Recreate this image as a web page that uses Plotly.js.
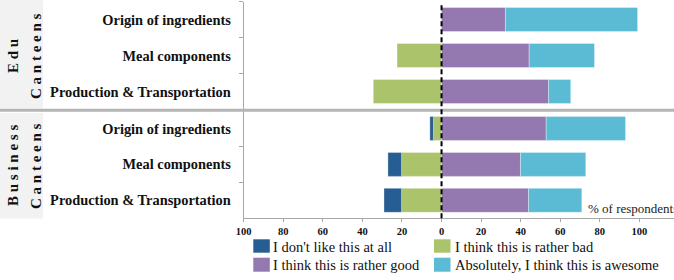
<!DOCTYPE html>
<html>
<head>
<meta charset="utf-8">
<script src="https://cdn.plot.ly/plotly-3.0.1.min.js"></script>
<style>html,body{margin:0;padding:0;background:#fff;}#chart{width:674px;height:280px;}</style>
</head>
<body>
<div id="chart"></div>
<script>
// ---- data ----
const categories = ["Origin of ingredients", "Meal components", "Production & Transportation"];
const seriesNames = ["I don't like this at all", "I think this is rather bad", "I think this is rather good", "Absolutely, I think this is awesome"];
const seriesColors = ["#265e93", "#abc46b", "#9479b0", "#5bbbd4"];
const panelNames = ["E d u", "B u s i n e s s"];
const panelSub = ["C a n t e e n s", "C a n t e e n s"];

// percentages of respondents (negative side shown for dislike / rather bad)
const eduDislike = [0, 0, 0];
const eduBad = [0, 22.5, 34.5];
const eduGood = [32.3, 44.3, 54.1];
const eduAwesome = [66.8, 33.0, 11.2];

const bizDislike = [1.8, 6.9, 8.9];
const bizBad = [4.1, 20.2, 20.2];
const bizGood = [52.9, 39.9, 44.0];
const bizAwesome = [40.1, 33.0, 26.9];

const tickVals = [-100, -80, -60, -40, -20, 0, 20, 40, 60, 80, 100];
const tickText = ["100", "80", "60", "40", "20", "0", "20", "40", "60", "80", "100"];
const axisNote = "% of respondents";

// ---- helpers ----
const W = 674, H = 280;
const px = x => x / W;
const py = y => 1 - y / H;
const serif = "Liberation Serif";

function mk(vals, idx, yax, neg) {
  return {
    type: "bar", orientation: "h",
    x: vals.map(v => neg ? -v : v), y: categories,
    yaxis: yax, xaxis: "x",
    name: seriesNames[idx],
    marker: {color: seriesColors[idx], line: {width: 0.6, color: "rgba(255,255,255,0.55)"}},
    showlegend: false, hoverinfo: "skip"
  };
}

const data = [
  mk(eduBad, 1, "y", true), mk(eduDislike, 0, "y", true), mk(eduGood, 2, "y", false), mk(eduAwesome, 3, "y", false),
  mk(bizBad, 1, "y2", true), mk(bizDislike, 0, "y2", true), mk(bizGood, 2, "y2", false), mk(bizAwesome, 3, "y2", false)
];

const yCommon = {
  type: "category", categoryorder: "array", categoryarray: categories,
  range: [2.5, -0.5], autorange: false, anchor: "x",
  showline: true, linecolor: "#a8a8a8", linewidth: 1,
  ticks: "outside", tickson: "boundaries", ticklen: 4, tickcolor: "#a8a8a8",
  ticklabelstandoff: 9,
  tickfont: {family: serif, size: 14.4, weight: "bold", color: "#111"},
  showgrid: false, zeroline: false, fixedrange: true
};

const shapes = [
  // strips
  {type: "rect", xref: "paper", yref: "paper", x0: 0, x1: px(43), y0: py(108.5), y1: py(0), fillcolor: "#f2f2f2", line: {width: 0}, layer: "below"},
  {type: "rect", xref: "paper", yref: "paper", x0: 0, x1: px(43), y0: py(218.5), y1: py(113), fillcolor: "#f2f2f2", line: {width: 0}, layer: "below"},
  // separator
  {type: "line", xref: "paper", yref: "paper", x0: 0, x1: 1, y0: py(110.3), y1: py(110.3), line: {color: "#b5b5b5", width: 3}},
  // zero dashed line
  {type: "line", xref: "x", yref: "paper", x0: 0, x1: 0, y0: py(218.3), y1: py(3), line: {color: "#000", width: 2, dash: "5px,3px"}}
];

const annotations = [];
const stripY = [56, 166];
for (let i = 0; i < 2; i++) {
  annotations.push({xref: "paper", yref: "paper", x: px(13), y: py(stripY[i]), text: panelNames[i], textangle: -90, showarrow: false, xanchor: "center", yanchor: "middle", font: {family: serif, size: 15, weight: "bold", color: "#111"}});
  annotations.push({xref: "paper", yref: "paper", x: px(36), y: py(stripY[i]), text: panelSub[i], textangle: -90, showarrow: false, xanchor: "center", yanchor: "middle", font: {family: serif, size: 15, weight: "bold", color: "#111"}});
}
annotations.push({xref: "paper", yref: "paper", x: px(586), y: py(208), text: axisNote, showarrow: false, xanchor: "left", yanchor: "middle", font: {family: serif, size: 13, color: "#222"}});

// legend (custom, 2 columns)
const legOrder = [0, 1, 2, 3];
const colSw = [253.3, 434];
const colTx = [270.5, 452.5];
const rowSw = [[239.3, 252.7], [257.7, 271.7]];
const rowTx = [247, 265];
legOrder.forEach((s, k) => {
  const c = k % 2, r = Math.floor(k / 2);
  shapes.push({type: "rect", xref: "paper", yref: "paper", x0: px(colSw[c]), x1: px(colSw[c] + 16.5), y0: py(rowSw[r][1]), y1: py(rowSw[r][0]), fillcolor: seriesColors[s], line: {width: 0}});
  annotations.push({xref: "paper", yref: "paper", x: px(colTx[c]), y: py(rowTx[r]), text: seriesNames[s], showarrow: false, xanchor: "left", yanchor: "middle", font: {family: serif, size: 14.5, color: "#111"}});
});

const layout = {
  width: W, height: H,
  margin: {l: 0, r: 0, t: 0, b: 0, pad: 0},
  paper_bgcolor: "#fff", plot_bgcolor: "rgba(0,0,0,0)",
  barmode: "relative", bargap: 0.333,
  showlegend: false,
  xaxis: {
    domain: [px(243.7), 1], range: [-100, 117.5], autorange: false, anchor: "y2",
    tickvals: tickVals, ticktext: tickText,
    showline: true, linecolor: "#a8a8a8", linewidth: 1,
    ticks: "outside", ticklen: 3, tickcolor: "#a8a8a8",
    tickfont: {family: serif, size: 10.5, weight: "bold", color: "#111"},
    showgrid: false, zeroline: false, fixedrange: true
  },
  yaxis: Object.assign({}, yCommon, {domain: [py(109.5), py(1.5)]}),
  yaxis2: Object.assign({}, yCommon, {domain: [py(218.3), py(110.5)]}),
  shapes: shapes,
  annotations: annotations
};

Plotly.newPlot("chart", data, layout, {displayModeBar: false, staticPlot: true});
</script>
</body>
</html>
